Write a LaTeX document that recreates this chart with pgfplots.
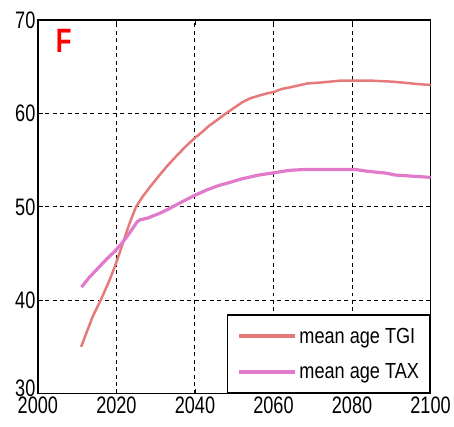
\documentclass[border=0pt]{standalone}
\usepackage{fontspec}
\setmainfont{Liberation Sans}[FakeStretch=0.76]
\newfontfamily\legfont{Liberation Sans}[FakeStretch=0.83]
\usepackage{pgfplots}
\pgfplotsset{compat=1.18}
\definecolor{tgi}{RGB}{230,122,122}
\definecolor{tax}{RGB}{226,122,204}
\begin{document}
\begin{tikzpicture}
\begin{axis}[
  scale only axis,
  width=394bp, height=375bp,
  xmin=2000, xmax=2100, ymin=30, ymax=70,
  xtick={2000,2020,...,2100},
  ytick={30,40,...,70},
  yticklabels={\raisebox{-3bp}[0pt][0pt]{30},40,50,60,70},
  /pgf/number format/assume math mode=true,
  /pgf/number format/1000 sep={},
  tick label style={font=\fontsize{24}{24}\selectfont, black},
  yticklabel style={xshift=1bp},
  xticklabel style={yshift=0bp},
  tick align=inside,
  major tick length=5bp,
  tick style={black, line width=0.8bp},
  axis line style={black, line width=1.3bp},
  grid=major,
  major grid style={black, line width=1bp, dash pattern=on 4bp off 3.5bp},
  legend style={at={(rel axis cs:1,0)}, anchor=south east, draw=black, line width=1.2bp, fill=white,
    font=\legfont\fontsize{22}{22}\selectfont, inner xsep=9bp, inner ysep=11bp, row sep=15bp, cells={anchor=west}},
  legend cell align=left,
  legend image code/.code={\draw[#1, line width=4bp] (0bp,0bp) -- (57bp,0bp);},
]
\addplot[color=tgi, line width=2.5bp] coordinates {
(2011,35.0) (2012,36.1) (2013,37.2) (2014,38.3) (2016,40.0) (2018.3,42.2) (2019.6,43.6)
(2021,45.3) (2022.1,46.7) (2023.5,48.4) (2025,50.0) (2026.7,51.1) (2028.5,52.1) (2031,53.4)
(2033,54.4) (2035.2,55.4) (2037.5,56.4) (2039.8,57.3) (2041.8,58.0) (2043.7,58.7) (2046,59.4)
(2047.9,60.0) (2050,60.6) (2052.1,61.2) (2054,61.6) (2056.3,61.9) (2058,62.1) (2060.2,62.3)
(2062,62.6) (2064.4,62.8) (2068.6,63.2) (2072,63.3) (2077,63.5) (2085,63.5) (2090,63.4)
(2092.7,63.3) (2097.8,63.1) (2100,63.05)
};
\addlegendentry{mean age TGI}
\addplot[color=tax, line width=3.2bp] coordinates {
(2011.1,41.4) (2013,42.4) (2015.7,43.6) (2017.5,44.4) (2019.5,45.2) (2021,45.9) (2022.5,46.7)
(2024,47.6) (2025.3,48.4) (2026,48.6) (2028,48.8) (2031,49.3) (2033,49.7) (2035.2,50.2)
(2037.5,50.7) (2039.8,51.2) (2043,51.8) (2046.2,52.3) (2048,52.5) (2052,53.0) (2056.3,53.4)
(2061,53.7) (2064,53.9) (2068,54.0) (2075,54.0) (2080.7,54.0) (2084,53.8) (2088.7,53.6)
(2091,53.4) (2094.6,53.3) (2100,53.15)
};
\addlegendentry{mean age TAX}
\node[text=red, font=\fontsize{34}{34}\selectfont\bfseries, anchor=center] at (axis cs:2006.6,67.8) {F};
\end{axis}
\path ([xshift=-38bp,yshift=-33bp]current axis.south west) rectangle ([xshift=22bp,yshift=20bp]current axis.north east);
\end{tikzpicture}
\end{document}
